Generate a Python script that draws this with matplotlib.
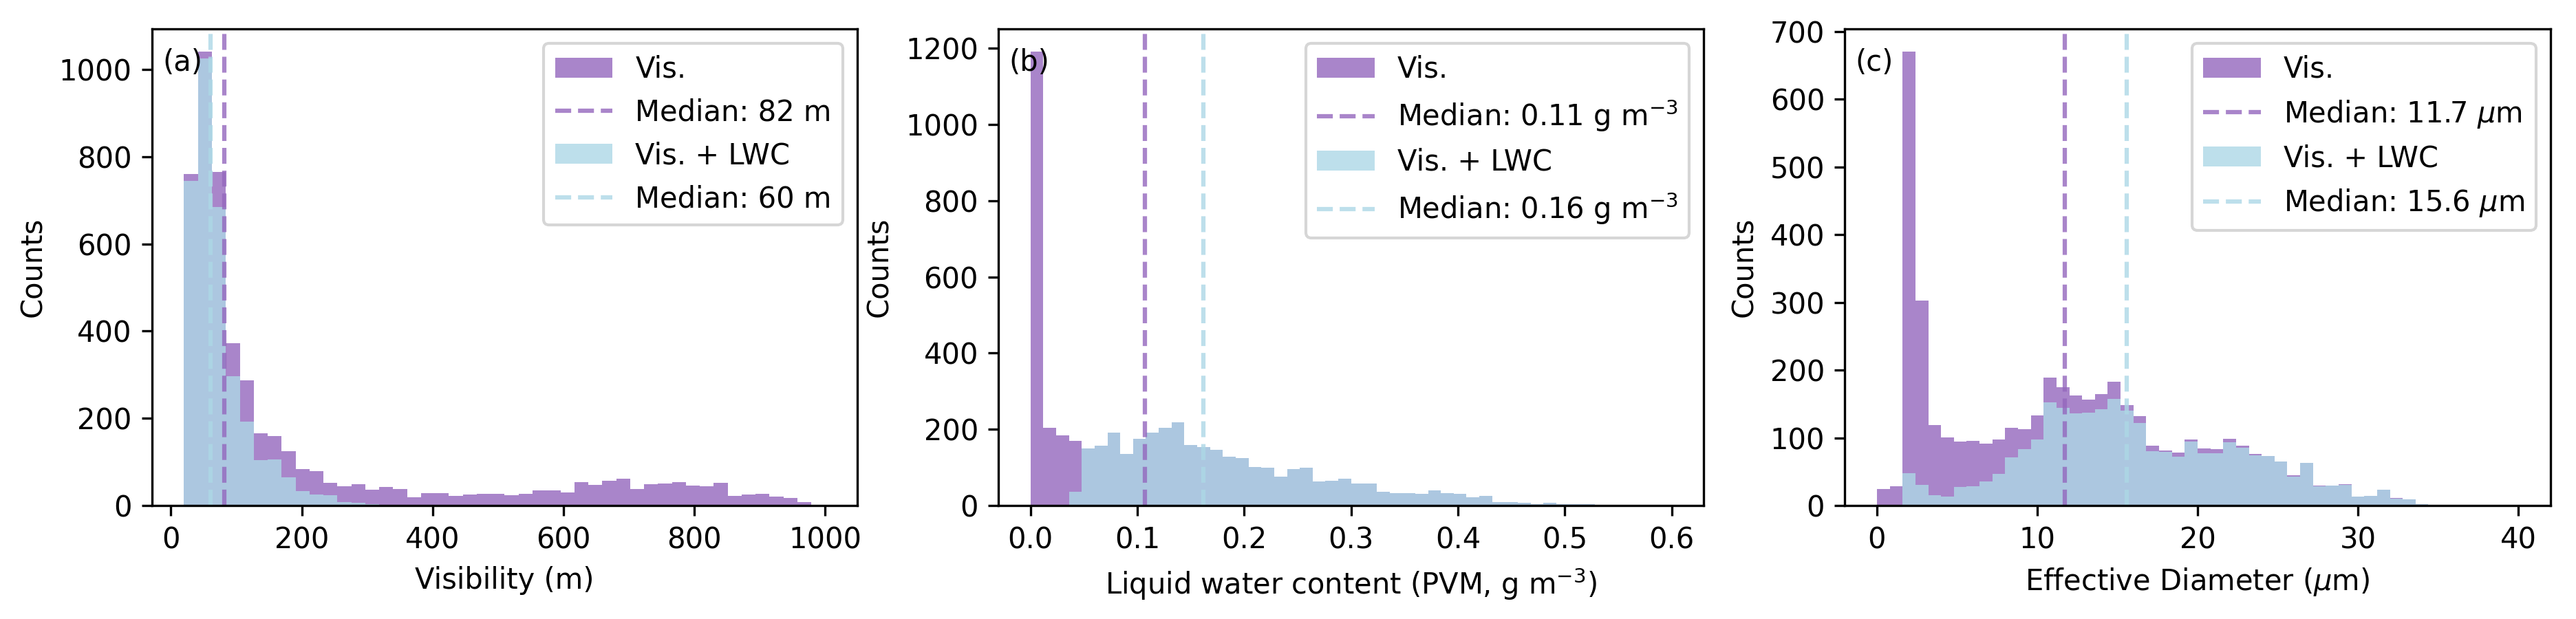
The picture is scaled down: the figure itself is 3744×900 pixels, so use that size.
import numpy as np
import matplotlib
matplotlib.use('Agg')
import matplotlib.pyplot as plt

# (a) visibility, 46 bins from 20 m to 1000 m
vis_edges = np.linspace(20, 1000, 47)
vis_vis = [760, 1040, 765, 373, 288, 166, 159, 125, 84, 79, 52, 44, 49, 36, 43, 38,
           20, 29, 29, 22, 25, 27, 28, 24, 28, 35, 35, 30, 54, 47, 57, 62, 39, 49, 51,
           54, 46, 44, 52, 23, 26, 27, 21, 18, 8, 2]
vis_lwc = [745, 1025, 685, 297, 192, 104, 106, 65, 33, 25, 24, 9, 7, 3, 2, 1] + [0] * 30
vis_med = (82, 60)

# (b) liquid water content, 50 bins 0-0.6
lwc_edges = np.linspace(0, 0.6, 51)
lwc_lwc = [0, 0, 0, 36, 150, 157, 192, 136, 175, 192, 204, 219, 159, 154, 146, 128,
           125, 101, 99, 76, 96, 99, 63, 65, 70, 58, 58, 36, 33, 33, 31, 40, 33, 31,
           23, 25, 9, 9, 7, 5, 7, 5, 4, 5, 3, 2, 2, 1, 0, 1]
lwc_vis = [1190, 204, 184, 170] + lwc_lwc[4:]
lwc_med = (0.107, 0.162)

# (c) effective diameter, 50 bins 0-40
ed_edges = np.linspace(0, 40, 51)
ed_vis = [25, 29, 670, 303, 119, 101, 95, 96, 92, 98, 115, 113, 133, 189, 175, 163,
          157, 165, 183, 149, 132, 89, 82, 78, 98, 85, 84, 99, 89, 76, 73, 65, 45, 63,
          30, 30, 32, 13, 15, 24, 11, 9, 2, 1, 0, 0, 1, 0, 1, 1]
ed_lwc = [0, 0, 48, 31, 16, 13, 28, 29, 36, 47, 71, 84, 98, 153, 144, 136, 137, 142,
          158, 140, 122, 80, 79, 72, 95, 77, 77, 94, 86, 74, 73, 65, 43, 63, 29, 30,
          31, 13, 15, 24, 10, 9, 2, 0, 0, 0, 0, 0, 0, 0]
ed_med = (11.7, 15.6)

panels = [
    ('(a)', vis_edges, vis_vis, vis_lwc, vis_med, 'Visibility (m)',
     ['Median: 82 m', 'Median: 60 m']),
    ('(b)', lwc_edges, lwc_vis, lwc_lwc, lwc_med, 'Liquid water content (PVM, g m$^{-3}$)',
     ['Median: 0.11 g m$^{-3}$', 'Median: 0.16 g m$^{-3}$']),
    ('(c)', ed_edges, ed_vis, ed_lwc, ed_med, r'Effective Diameter ($\mu$m)',
     [r'Median: 11.7 $\mu$m', r'Median: 15.6 $\mu$m']),
]

c1 = 'tab:purple'
c2 = 'lightblue'

fig, axes = plt.subplots(1, 3, figsize=(12.48, 3), dpi=300)
for ax, (tag, edges, a, b, med, xlabel, medlabels) in zip(axes, panels):
    centers = (edges[:-1] + edges[1:]) / 2
    ax.hist(centers, bins=edges, weights=a, color=c1, alpha=0.8, label='Vis.')
    ax.axvline(med[0], color=c1, alpha=0.8, ls='--', lw=1.5, label=medlabels[0])
    ax.hist(centers, bins=edges, weights=b, color=c2, alpha=0.8, label='Vis. + LWC')
    ax.axvline(med[1], color=c2, alpha=0.8, ls='--', lw=1.5, label=medlabels[1])
    ax.set_xlabel(xlabel)
    ax.set_ylabel('Counts')
    ax.text(0.015, 0.96, tag, transform=ax.transAxes, va='top', ha='left')
    ax.legend(loc='upper right')

plt.subplots_adjust(left=0.059, right=0.99, top=0.953, bottom=0.183, wspace=0.2)
plt.savefig('out.png')
